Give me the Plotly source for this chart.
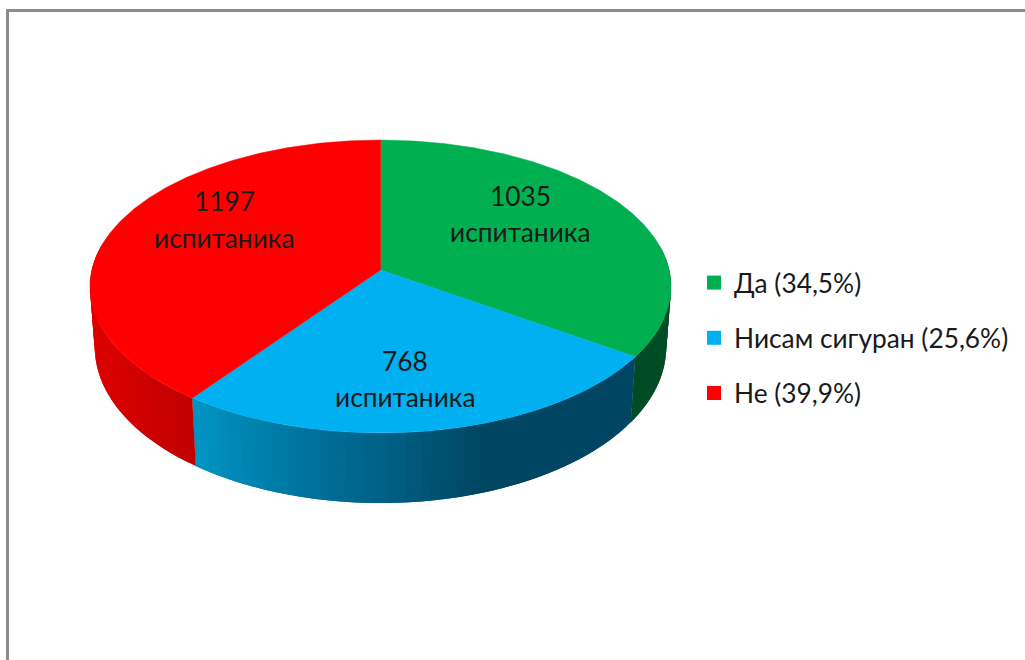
import numpy as np
import plotly.graph_objects as go

# Data
categories = ["Да", "Нисам сигуран", "Не"]
respondents = [1035, 768, 1197]
percent_labels = ["34,5%", "25,6%", "39,9%"]
slice_word = "испитаника"

# Style
top_colors = ["#00B050", "#00B0F0", "#FF0000"]
FONT = "Lato, Carlito, Calibri, 'Open Sans', sans-serif"
FS = 26.3
TXT = "#1a1a1a"
# wall shading: pixel x -> rgb
wall_shades = [
    ([600, 680], [(0, 76, 36), (0, 76, 36)]),
    ([190, 300, 400, 480, 640], [(0, 150, 196), (0, 116, 160), (0, 92, 128), (0, 70, 98), (0, 70, 98)]),
    ([90, 190], [(222, 0, 0), (194, 0, 0)]),
]
# projection of the disc
TOP = dict(cy=270.0, k=144.6, a=288.7, p=-0.1126)
BASE = dict(cy=330.0, k=154.0, a=284.0, p=-0.11)
CX = 380.5


def project(theta_deg, g, r=1.0):
    th = np.radians(theta_deg)
    X, Y = r * np.sin(th), -r * np.cos(th)
    d = 1 + g["p"] * Y
    return CX + g["a"] * X / d, g["cy"] + g["k"] * Y / d


def rgb(c):
    return "rgb(%d,%d,%d)" % tuple(int(round(v)) for v in c)


total = sum(respondents)
edges = np.concatenate([[0.0], np.cumsum(respondents) / total * 360.0])

fig = go.Figure()

# walls (front part only, the top faces hide the rest)
for i in range(len(respondents)):
    start, end = max(edges[i], 80.0), min(edges[i + 1], 280.0)
    n = max(2, int((end - start) / 1.5))
    ths = np.linspace(start, end, n + 1)
    xs_st, cols = wall_shades[i]
    for j in range(n):
        # each band runs a little under the next one, so no seam shows
        seg = ths[j:min(j + 3, n + 1)]
        x1, y1 = project(seg, TOP)
        x2, y2 = project(seg[::-1], BASE)
        xa, _ = project(ths[j:j + 2], TOP)
        xb, _ = project(ths[j:j + 2], BASE)
        xm = (xa.mean() + xb.mean()) / 2
        c = [np.interp(xm, xs_st, [q[m] for q in cols]) for m in range(3)]
        col = rgb(c)
        fig.add_trace(go.Scatter(
            x=list(x1) + list(x2) + [x1[0]], y=list(y1) + list(y2) + [y1[0]],
            mode="lines", fill="toself", fillcolor=col,
            line=dict(color=col, width=0), hoverinfo="skip", showlegend=False))

# top faces
for i in range(len(respondents)):
    ths = np.arange(edges[i], edges[i + 1] + 0.25, 0.5)
    ths[-1] = edges[i + 1]
    x, y = project(ths, TOP)
    fig.add_trace(go.Scatter(
        x=[CX] + list(x) + [CX], y=[TOP["cy"]] + list(y) + [TOP["cy"]],
        mode="lines", fill="toself", fillcolor=top_colors[i],
        line=dict(color=top_colors[i], width=0.5),
        name=categories[i], text=f"{categories[i]}: {respondents[i]}", hoverinfo="text", showlegend=False))

# legend entries
for i in range(len(respondents)):
    fig.add_trace(go.Scatter(
        x=[None], y=[None], mode="markers", legendgroup=categories[i],
        marker=dict(symbol="square", size=14, color=top_colors[i]),
        name=f"{categories[i]} ({percent_labels[i]})"))

# slice labels: count line and word line
anchors = [(520, 196, 232), (405, 361, 397), (224, 201, 238)]
annotations = []
for i, (ax, ay1, ay2) in enumerate(anchors):
    for ay, line in ((ay1, str(respondents[i])), (ay2, slice_word)):
        annotations.append(dict(x=ax, y=ay, xref="x", yref="y", showarrow=False, align="center",
                                text=line, font=dict(family=FONT, size=FS, color=TXT)))

frame = "#8c8c8c"
shapes = [
    dict(type="line", xref="x", yref="y", x0=6, x1=1025, y0=10.5, y1=10.5, line=dict(color=frame, width=3)),
    dict(type="line", xref="x", yref="y", x0=7.5, x1=7.5, y0=9, y1=660, line=dict(color=frame, width=3)),
]

fig.update_layout(
    width=1025, height=660, margin=dict(l=0, r=0, t=0, b=0),
    paper_bgcolor="white", plot_bgcolor="white",
    xaxis=dict(range=[0, 1025], visible=False, fixedrange=True),
    yaxis=dict(range=[660, 0], visible=False, fixedrange=True),
    shapes=shapes, annotations=annotations,
    showlegend=True,
    legend=dict(x=699 / 1025, xanchor="left", y=1 - 259 / 660, yanchor="top", indentation=-5,
                bgcolor="rgba(0,0,0,0)", font=dict(family=FONT, size=FS, color=TXT),
                tracegroupgap=18, itemclick=False, itemdoubleclick=False),
)

fig.write_html("out.html", config={"displayModeBar": False},
               post_script="document.body.style.margin='0';document.body.style.overflow='hidden';")
